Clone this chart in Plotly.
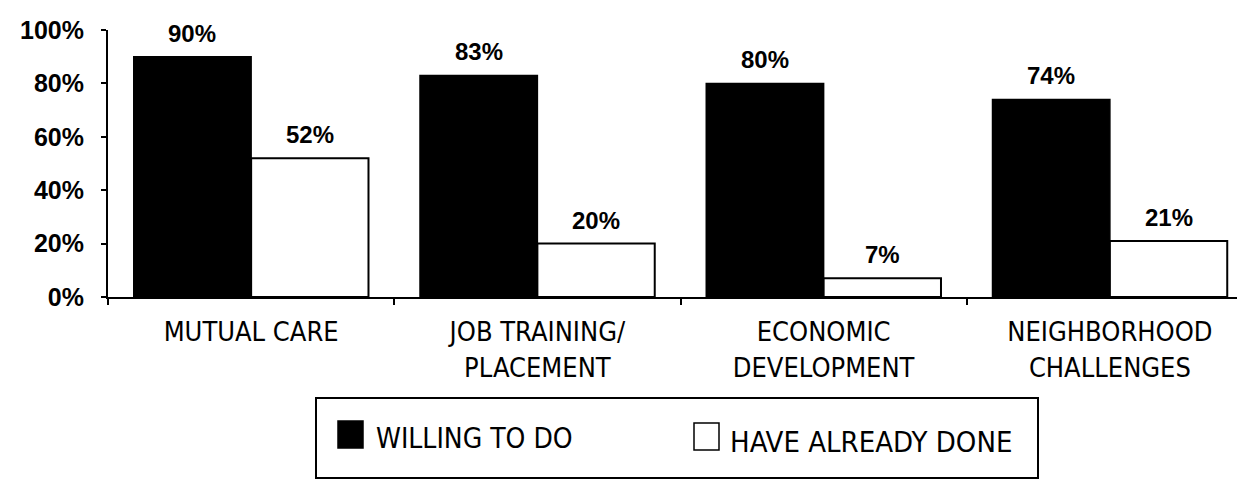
import plotly.graph_objects as go

categories = ["MUTUAL CARE", "JOB TRAINING/<br>PLACEMENT", "ECONOMIC<br>DEVELOPMENT", "NEIGHBORHOOD<br>CHALLENGES"]
series_names = ["WILLING TO DO", "HAVE ALREADY DONE"]
willing = [90, 83, 80, 74]
already = [52, 20, 7, 21]
y_ticks = [0, 20, 40, 60, 80, 100]
y_tick_labels = ["0%", "20%", "40%", "60%", "80%", "100%"]

NARROW = "'Liberation Sans Narrow', 'Arial Narrow', 'DejaVu Sans Condensed', 'Liberation Sans', Arial, sans-serif"
REG = "'Liberation Sans', Arial, sans-serif"

W, H = 1245, 487
ML, MR, MT, MB = 100, 0, 22, 198
PW, PH = W - ML - MR, H - MT - MB
BARGAP = 0.18

fig = go.Figure()
fig.add_trace(go.Bar(x=categories, y=willing, name=series_names[0],
                     marker=dict(color="black", line=dict(color="black", width=1.5)),
                     showlegend=False))
fig.add_trace(go.Bar(x=categories, y=already, name=series_names[1],
                     marker=dict(color="white", line=dict(color="black", width=2)),
                     showlegend=False))

# value labels above bars
bw = (1 - BARGAP) / 2
for j, vals in enumerate([willing, already]):
    for i, v in enumerate(vals):
        fig.add_annotation(x=i + (j - 0.5) * bw, y=v, xref="x", yref="y",
                           text=f"{v}%", showarrow=False, yanchor="bottom",
                           yshift=8, font=dict(family=REG, size=24, color="black", weight="bold"))

def px_x(p):
    return (p - ML) / PW

def px_y(p):
    return (H - MB - p) / PH

# legend box (drawn manually for matching symbol size)
fig.add_shape(type="rect", xref="paper", yref="paper",
              x0=px_x(308), x1=px_x(1030), y0=px_y(390), y1=px_y(470),
              line=dict(color="black", width=2), fillcolor="white")
fig.add_shape(type="rect", xref="paper", yref="paper",
              x0=px_x(330), x1=px_x(355), y0=px_y(413), y1=px_y(440),
              line=dict(color="black", width=1.5), fillcolor="black")
fig.add_shape(type="rect", xref="paper", yref="paper",
              x0=px_x(686), x1=px_x(711), y0=px_y(415), y1=px_y(442),
              line=dict(color="black", width=1.5), fillcolor="white")
fig.add_annotation(x=px_x(366), y=px_y(430), xref="paper", yref="paper",
                   text=series_names[0], showarrow=False, xanchor="left", yanchor="middle",
                   font=dict(family=NARROW, size=28, color="black"))
fig.add_annotation(x=px_x(720), y=px_y(434), xref="paper", yref="paper",
                   text=series_names[1], showarrow=False, xanchor="left", yanchor="middle",
                   font=dict(family=NARROW, size=29, color="black"))

fig.update_layout(
    width=W, height=H,
    margin=dict(l=ML, r=MR, t=MT, b=MB),
    barmode="group", bargap=BARGAP, bargroupgap=0,
    plot_bgcolor="white", paper_bgcolor="white",
    showlegend=False,
    xaxis=dict(type="category", showline=True, linecolor="black", linewidth=2,
               ticks="outside", tickson="boundaries", ticklen=6, tickcolor="black",
               tickwidth=1.5, showgrid=False, ticklabelstandoff=10,
               tickfont=dict(family=NARROW, size=27, color="black")),
    yaxis=dict(range=[0, 100], showline=True, linecolor="black", linewidth=2,
               ticks="outside", ticklen=5, tickcolor="black", tickwidth=1.5,
               tickmode="array", tickvals=y_ticks, ticktext=y_tick_labels,
               showgrid=False, zeroline=False, ticklabelstandoff=12,
               tickfont=dict(family=REG, size=25, color="black", weight="bold")),
)

fig.write_html("out.html")
